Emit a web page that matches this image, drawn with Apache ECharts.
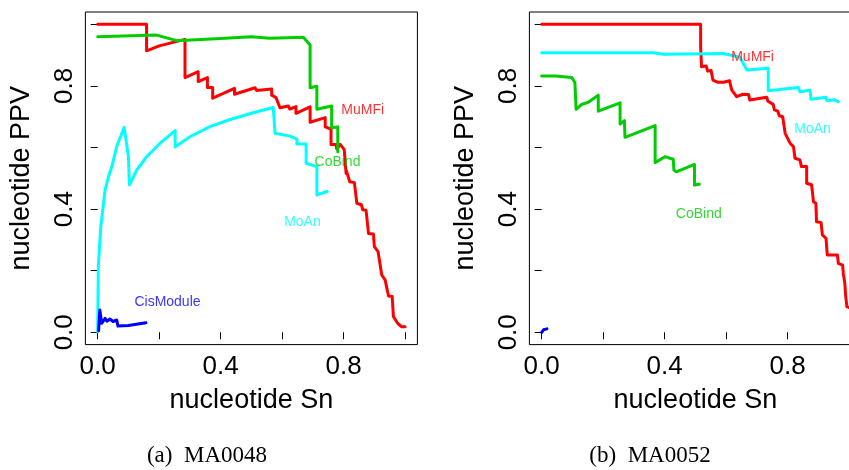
<!DOCTYPE html>
<html>
<head>
<meta charset="utf-8">
<script src="https://cdn.jsdelivr.net/npm/echarts@6/dist/echarts.min.js"></script>
<style>
html,body{margin:0;padding:0;background:#fff;}
#chart{width:849px;height:470px;}
</style>
</head>
<body>
<div id="chart"></div>
<script>
// ---------- Data (Sn, PPV) ----------
// Panel (a) MA0048
const a_MuMFi = [[0,1.0],[0.159,1.0],[0.159,0.914],[0.2,0.93],[0.284,0.951],[0.284,0.827],[0.327,0.846],[0.327,0.814],[0.357,0.827],[0.357,0.795],[0.374,0.795],[0.374,0.760],[0.445,0.792],[0.445,0.773],[0.512,0.794],[0.517,0.785],[0.566,0.790],[0.566,0.770],[0.58,0.762],[0.593,0.729],[0.62,0.735],[0.625,0.725],[0.645,0.733],[0.645,0.711],[0.691,0.732],[0.691,0.682],[0.740,0.697],[0.740,0.667],[0.759,0.660],[0.759,0.610],[0.775,0.610],[0.778,0.595],[0.789,0.610],[0.802,0.593],[0.808,0.516],[0.808,0.527],[0.820,0.489],[0.835,0.486],[0.843,0.419],[0.858,0.414],[0.862,0.398],[0.873,0.396],[0.881,0.321],[0.897,0.319],[0.900,0.278],[0.912,0.262],[0.924,0.186],[0.935,0.170],[0.946,0.118],[0.958,0.116],[0.962,0.051],[0.975,0.030],[0.989,0.018],[1.0,0.018]];
const a_CoBind = [[0,0.960],[0.192,0.965],[0.257,0.947],[0.40,0.954],[0.50,0.960],[0.560,0.955],[0.669,0.958],[0.691,0.933],[0.691,0.794],[0.713,0.799],[0.713,0.724],[0.761,0.735],[0.761,0.664],[0.781,0.667],[0.781,0.586]];
const a_MoAn = [[0.0,0.002],[0.002,0.213],[0.010,0.343],[0.024,0.462],[0.035,0.505],[0.046,0.538],[0.062,0.603],[0.086,0.666],[0.100,0.570],[0.103,0.478],[0.127,0.527],[0.159,0.570],[0.203,0.614],[0.252,0.655],[0.252,0.602],[0.300,0.635],[0.365,0.668],[0.431,0.691],[0.506,0.713],[0.571,0.730],[0.577,0.646],[0.626,0.637],[0.648,0.627],[0.648,0.611],[0.678,0.611],[0.678,0.549],[0.713,0.538],[0.713,0.446],[0.747,0.457]];
const a_CisModule = [[0.003,0.005],[0.007,0.072],[0.013,0.029],[0.024,0.045],[0.030,0.036],[0.040,0.043],[0.050,0.035],[0.062,0.040],[0.066,0.020],[0.10,0.022],[0.157,0.031]];
// Panel (b) MA0052
const b_MuMFi = [[0,1.0],[0.517,1.0],[0.517,0.927],[0.520,0.862],[0.535,0.865],[0.540,0.848],[0.551,0.850],[0.557,0.819],[0.572,0.812],[0.591,0.812],[0.611,0.817],[0.618,0.787],[0.634,0.765],[0.655,0.773],[0.673,0.772],[0.677,0.754],[0.732,0.763],[0.736,0.750],[0.753,0.740],[0.757,0.722],[0.768,0.718],[0.773,0.703],[0.784,0.700],[0.792,0.646],[0.808,0.614],[0.819,0.603],[0.824,0.565],[0.840,0.560],[0.845,0.538],[0.862,0.538],[0.862,0.484],[0.878,0.479],[0.884,0.424],[0.892,0.419],[0.894,0.359],[0.909,0.356],[0.913,0.316],[0.925,0.305],[0.929,0.251],[0.962,0.251],[0.965,0.224],[0.979,0.218],[0.981,0.192],[0.986,0.160],[0.989,0.116],[0.993,0.083],[1.0,0.080]];
const b_MoAn = [[0,0.908],[0.363,0.908],[0.396,0.903],[0.591,0.905],[0.645,0.893],[0.667,0.852],[0.737,0.857],[0.737,0.784],[0.835,0.795],[0.840,0.781],[0.873,0.786],[0.876,0.757],[0.925,0.763],[0.928,0.752],[0.952,0.755],[0.965,0.749]];
const b_CoBind = [[0,0.832],[0.045,0.832],[0.098,0.827],[0.108,0.811],[0.112,0.724],[0.130,0.740],[0.152,0.747],[0.184,0.770],[0.184,0.718],[0.255,0.745],[0.255,0.676],[0.269,0.687],[0.271,0.633],[0.369,0.671],[0.369,0.551],[0.401,0.570],[0.428,0.562],[0.430,0.527],[0.438,0.521],[0.497,0.545],[0.497,0.478],[0.513,0.481]];
const b_CisModule = [[0.0,0.0],[0.006,0.008],[0.012,0.012],[0.017,0.011]];
// Series labels: [x, y, name]
const a_labels = [[0.862,0.722,'MuMFi'],[0.780,0.554,'CoBind'],[0.666,0.359,'MoAn'],[0.227,0.097,'CisModule']];
const b_labels = [[0.686,0.892,'MuMFi'],[0.881,0.660,'MoAn'],[0.511,0.384,'CoBind']];
const tickValues = [0,0.2,0.4,0.6,0.8,1.0];
const labelValues = [0,0.4,0.8];
const captions = ['(a)\u2002MA0048','(b)\u2002MA0052'];
// ------------------------------------
const colors = {MuMFi:'#FF0000', CoBind:'#00CD00', MoAn:'#00FFFF', CisModule:'#0000FF'};
const FONT = '"Liberation Sans", Arial, Helvetica, sans-serif';
const SERIF = '"Liberation Serif","DejaVu Serif",serif';
const chart = echarts.init(document.getElementById('chart'), null, {renderer:'canvas'});

function mkAxis(idx, isX){
  return {
    type:'value', gridIndex:idx, min:-0.04, max:1.04,
    name: isX ? 'nucleotide Sn' : 'nucleotide PPV',
    nameLocation:'middle', nameGap: isX ? 42 : 50,
    nameTextStyle:{fontFamily:FONT, fontSize:27, color:'#000'},
    axisLine:{show:false},
    splitLine:{show:false},
    axisTick:{show:true, inside:false, length:7, customValues:tickValues, lineStyle:{color:'#000', width:1}},
    axisLabel:{show:true, customValues:labelValues, rotate: isX?0:90, margin: isX?9:8,
      fontFamily:FONT, fontSize:26, color:'#000', formatter:v=>Number(v).toFixed(1)}
  };
}
function lineSeries(name, data, idx){
  return {type:'line', name, xAxisIndex:idx, yAxisIndex:idx, data, showSymbol:false, symbol:'none',
    lineStyle:{color:colors[name], width:3, cap:'round', join:'round'}, itemStyle:{color:colors[name]}, animation:false, z:2};
}
function labelSeries(labels, idx){
  return {type:'scatter', xAxisIndex:idx, yAxisIndex:idx, symbolSize:0, silent:true, animation:false, z:5,
    data: labels.map(l=>({value:[l[0],l[1]], name:l[2],
      label:{show:true, position:'inside', formatter:l[2], color:colors[l[2]], fontFamily:FONT, fontSize:14}}))};
}
const option = {
  backgroundColor:'#fff',
  animation:false,
  grid:[
    {left:85.4, top:12, width:332, height:332.6, show:true, borderColor:'#000', borderWidth:1, backgroundColor:'transparent', outerBoundsMode:'none', containLabel:false},
    {left:529.4, top:12, width:332, height:332.6, show:true, borderColor:'#000', borderWidth:1, backgroundColor:'transparent', outerBoundsMode:'none', containLabel:false}
  ],
  xAxis:[mkAxis(0,true), mkAxis(1,true)],
  yAxis:[mkAxis(0,false), mkAxis(1,false)],
  series:[
    lineSeries('MuMFi', a_MuMFi, 0),
    lineSeries('CoBind', a_CoBind, 0),
    lineSeries('MoAn', a_MoAn, 0),
    lineSeries('CisModule', a_CisModule, 0),
    labelSeries(a_labels, 0),
    lineSeries('MuMFi', b_MuMFi, 1),
    lineSeries('MoAn', b_MoAn, 1),
    lineSeries('CoBind', b_CoBind, 1),
    lineSeries('CisModule', b_CisModule, 1),
    labelSeries(b_labels, 1)
  ],
  graphic:[
    {type:'text', x:207, y:456, style:{text:captions[0], fontFamily:SERIF, fontSize:23, fill:'#000', textAlign:'center', textVerticalAlign:'middle'}},
    {type:'text', x:650, y:456, style:{text:captions[1], fontFamily:SERIF, fontSize:23, fill:'#000', textAlign:'center', textVerticalAlign:'middle'}}
  ]
};
chart.setOption(option);
</script>
</body>
</html>
